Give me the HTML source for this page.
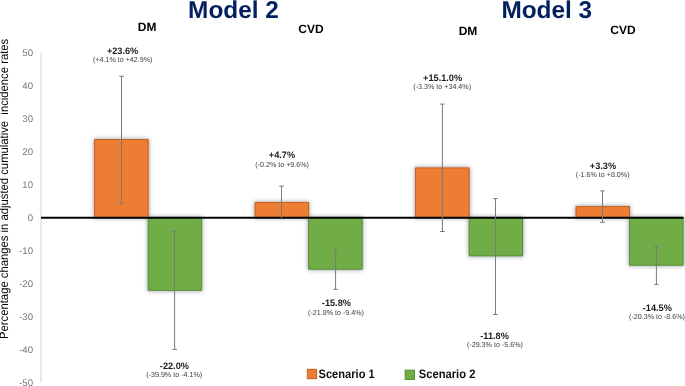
<!DOCTYPE html>
<html>
<head>
<meta charset="utf-8">
<style>
html,body{margin:0;padding:0;background:#fff;}
body{width:685px;height:386px;overflow:hidden;}
svg{display:block;will-change:transform;text-rendering:geometricPrecision;font-family:"Liberation Sans", sans-serif;}
.t{font-weight:bold;fill:#03205f;font-size:24.4px;}
.c{font-weight:bold;fill:#000;font-size:12px;}
.v{font-weight:bold;fill:#1a1a1a;font-size:9.3px;}
.ci{fill:#404040;font-size:7.3px;}
.tk{fill:#767676;font-size:9.6px;}
.lg{font-weight:bold;fill:#111;font-size:12.2px;}
.ax{fill:#000;font-size:12.1px;}
</style>
</head>
<body>
<svg width="685" height="386" viewBox="0 0 685 386">
<defs>
<filter id="sh" x="-20%" y="-20%" width="140%" height="140%">
<feGaussianBlur in="SourceAlpha" stdDeviation="2.2" result="b"/>
<feOffset in="b" dx="0.2" dy="0.4" result="o"/>
<feFlood flood-color="#26303c" flood-opacity="0.55"/>
<feComposite in2="o" operator="in"/>
<feMerge><feMergeNode/><feMergeNode in="SourceGraphic"/></feMerge>
</filter>
</defs>

<!-- titles -->
<text class="t" x="233.5" y="17.6" text-anchor="middle">Model 2</text>
<text class="t" x="546.8" y="17.6" text-anchor="middle">Model 3</text>
<text class="c" x="147.2" y="30.5" text-anchor="middle">DM</text>
<text class="c" x="311" y="33.3" text-anchor="middle">CVD</text>
<text class="c" x="468" y="34.6" text-anchor="middle">DM</text>
<text class="c" x="623" y="33.7" text-anchor="middle">CVD</text>

<!-- axis title -->
<text class="ax" transform="translate(8.3,188.9) rotate(-90)" text-anchor="middle" textLength="300.2" lengthAdjust="spacingAndGlyphs" xml:space="preserve">Percentage changes in adjusted cumulative  incidence rates</text>

<!-- y ticks -->
<g class="tk" text-anchor="end">
<text x="33" y="56">50</text>
<text x="33" y="89">40</text>
<text x="33" y="122">30</text>
<text x="33" y="155">20</text>
<text x="33" y="188">10</text>
<text x="33" y="221">0</text>
<text x="33" y="254">-10</text>
<text x="33" y="287">-20</text>
<text x="33" y="320">-30</text>
<text x="33" y="353">-40</text>
<text x="33" y="386">-50</text>
</g>
<line x1="41.1" y1="52.7" x2="41.1" y2="382.5" stroke="#e3e3e3" stroke-width="1.6"/>

<!-- bars -->
<g filter="url(#sh)">
<rect x="94.60" y="139.6" width="53.6" height="78.1" fill="#ED7D31" stroke="#c05c1c" stroke-width="0.9"/>
<rect x="148.20" y="217.7" width="53.5" height="72.6" fill="#70AD47" stroke="#508a31" stroke-width="0.9"/>
<rect x="255.07" y="202.4" width="53.6" height="15.3" fill="#ED7D31" stroke="#c05c1c" stroke-width="0.9"/>
<rect x="308.67" y="217.7" width="53.5" height="51.5" fill="#70AD47" stroke="#508a31" stroke-width="0.9"/>
<rect x="415.54" y="167.9" width="53.6" height="49.8" fill="#ED7D31" stroke="#c05c1c" stroke-width="0.9"/>
<rect x="469.14" y="217.7" width="53.5" height="38.2" fill="#70AD47" stroke="#508a31" stroke-width="0.9"/>
<rect x="576.01" y="206.6" width="53.6" height="11.1" fill="#ED7D31" stroke="#c05c1c" stroke-width="0.9"/>
<rect x="629.61" y="217.7" width="53.5" height="47.5" fill="#70AD47" stroke="#508a31" stroke-width="0.9"/>
</g>

<!-- zero line -->
<line x1="41" y1="217.75" x2="683.5" y2="217.75" stroke="#000" stroke-width="1.8"/>

<!-- error bars -->
<g stroke="#7a7a7a" stroke-width="1" fill="none">
<path d="M121.5 76.3V203.6M119.2 76.3H123.8M119.2 203.6H123.8"/>
<path d="M174.6 231.4V349.4M172.3 231.4H176.9M172.3 349.4H176.9"/>
<path d="M281.5 186.1V218M279.2 186.1H283.8"/>
<path d="M335.6 250.2V289.4M333.3 250.2H337.9M333.3 289.4H337.9"/>
<path d="M442.4 104.1V231.5M440.1 104.1H444.7M440.1 231.5H444.7"/>
<path d="M495.5 198.6V314.5M493.2 198.6H497.8M493.2 314.5H497.8"/>
<path d="M602.5 190.9V222.3M600.2 190.9H604.8M600.2 222.3H604.8"/>
<path d="M656.4 246.6V284.4M654.1 246.6H658.7M654.1 284.4H658.7"/>
</g>

<!-- value labels -->
<g text-anchor="middle">
<text class="v" x="122.6" y="53.8" textLength="31.42" lengthAdjust="spacingAndGlyphs">+23.6%</text>
<text class="ci" x="122.7" y="62.2" textLength="59.55" lengthAdjust="spacingAndGlyphs">(+4.1% to +42.9%)</text>
<text class="v" x="282" y="158.1" textLength="26.31" lengthAdjust="spacingAndGlyphs">+4.7%</text>
<text class="ci" x="282.1" y="166.5" textLength="53.78" lengthAdjust="spacingAndGlyphs">(-0.2% to +9.6%)</text>
<text class="v" x="442.6" y="80.5" textLength="39.09" lengthAdjust="spacingAndGlyphs">+15.1.0%</text>
<text class="ci" x="442.2" y="89" textLength="57.75" lengthAdjust="spacingAndGlyphs">(-3.3% to +34.4%)</text>
<text class="v" x="603" y="168.7" textLength="26.31" lengthAdjust="spacingAndGlyphs">+3.3%</text>
<text class="ci" x="602.7" y="176.7" textLength="53.78" lengthAdjust="spacingAndGlyphs">(-1.6% to +8.0%)</text>
<text class="v" x="174.4" y="368.5" textLength="29.12" lengthAdjust="spacingAndGlyphs">-22.0%</text>
<text class="ci" x="174.2" y="377.2" textLength="55.97" lengthAdjust="spacingAndGlyphs">(-39.9% to -4.1%)</text>
<text class="v" x="336.4" y="306" textLength="29.12" lengthAdjust="spacingAndGlyphs">-15.8%</text>
<text class="ci" x="336" y="314.5" textLength="55.97" lengthAdjust="spacingAndGlyphs">(-21.8% to -9.4%)</text>
<text class="v" x="494.6" y="338.8" textLength="28.61" lengthAdjust="spacingAndGlyphs">-11.8%</text>
<text class="ci" x="494.9" y="346.7" textLength="55.97" lengthAdjust="spacingAndGlyphs">(-29.3% to -5.6%)</text>
<text class="v" x="657.3" y="310.7" textLength="29.12" lengthAdjust="spacingAndGlyphs">-14.5%</text>
<text class="ci" x="657" y="319" textLength="55.97" lengthAdjust="spacingAndGlyphs">(-20.3% to -8.6%)</text>
</g>

<!-- legend -->
<rect x="307.3" y="369.3" width="9.4" height="9.4" fill="#ED7D31" stroke="#c05c1c" stroke-width="0.9"/>
<text class="lg" x="318.5" y="378.2" textLength="56.2" lengthAdjust="spacingAndGlyphs">Scenario 1</text>
<rect x="405.1" y="370.1" width="9.4" height="9.4" fill="#70AD47" stroke="#508a31" stroke-width="0.9"/>
<text class="lg" x="418.8" y="378.2" textLength="56.6" lengthAdjust="spacingAndGlyphs">Scenario 2</text>
</svg>
</body>
</html>
